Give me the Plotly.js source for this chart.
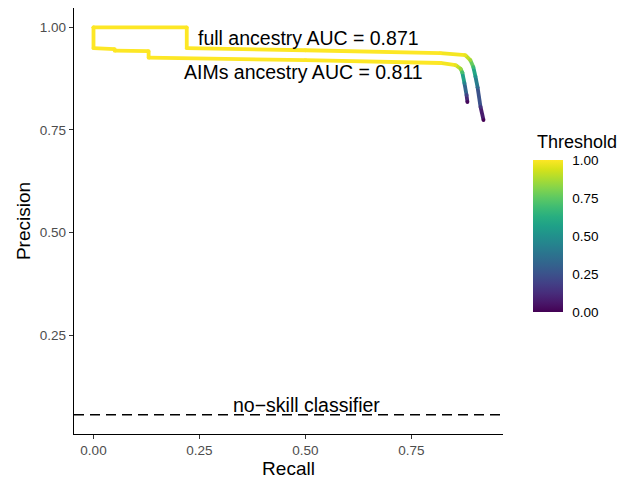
<!DOCTYPE html>
<html><head><meta charset="utf-8">
<script src="https://cdn.plot.ly/plotly-3.0.1.min.js"></script>
<style>html,body{margin:0;padding:0;background:#fff}#plot{width:621px;height:481px}</style>
</head><body><div id="plot"></div>
<script>
// Full ancestry PR curve
const fullRecall    = [0, 0.22, 0.22, 0.5, 0.818, 0.877, 0.889, 0.896, 0.901, 0.906, 0.913, 0.920];
const fullPrecision = [1, 1, 0.949, 0.944, 0.937, 0.932, 0.920, 0.903, 0.880, 0.854, 0.806, 0.774];
const fullThreshold = [1, 1, 1, 1, 1, 0.97, 0.85, 0.68, 0.5, 0.35, 0.15, 0.0];
// AIMs ancestry PR curve
const aimsRecall    = [0, 0, 0.05, 0.05, 0.13, 0.13, 0.5, 0.818, 0.854, 0.866, 0.870, 0.875, 0.880, 0.882];
const aimsPrecision = [1, 0.949, 0.947, 0.943, 0.942, 0.926, 0.920, 0.913, 0.908, 0.899, 0.890, 0.864, 0.835, 0.818];
const aimsThreshold = [1, 1, 1, 1, 1, 1, 1, 1, 0.97, 0.85, 0.7, 0.45, 0.2, 0.02];
const noSkill = 0.056;
const labels = ["full ancestry AUC = 0.871", "AIMs ancestry AUC = 0.811", "no\u2212skill classifier"];
const labelX = [0.507, 0.496, 0.502];
const labelY = [0.973, 0.890, 0.080];
const xTicks = [0, 0.25, 0.5, 0.75];
const yTicks = [0.25, 0.5, 0.75, 1.0];
const cbTicks = [0, 0.25, 0.5, 0.75, 1];
const cbTitle = "Threshold";

const viridis = [[0,'#440154'],[0.0627,'#48186a'],[0.1255,'#472d7b'],[0.1882,'#424086'],[0.2510,'#3b528b'],[0.3137,'#33638d'],[0.3765,'#2c728e'],[0.4392,'#26828e'],[0.5020,'#21918c'],[0.5647,'#1fa088'],[0.6275,'#28ae80'],[0.6902,'#3fbc73'],[0.7529,'#5ec962'],[0.8157,'#84d44b'],[0.8784,'#addc30'],[0.9412,'#d8e219'],[1,'#fde725']];
function hex2rgb(h){return [parseInt(h.substr(1,2),16),parseInt(h.substr(3,2),16),parseInt(h.substr(5,2),16)];}
function vcol(t){
  t=Math.max(0,Math.min(1,t));
  for(let i=1;i<viridis.length;i++){
    if(t<=viridis[i][0]){
      const a=viridis[i-1],b=viridis[i];const f=(t-a[0])/(b[0]-a[0]);
      const ca=hex2rgb(a[1]),cb=hex2rgb(b[1]);
      return 'rgb('+ca.map((v,k)=>Math.round(v+(cb[k]-v)*f)).join(',')+')';
    }
  }
  return viridis[viridis.length-1][1];
}
const W=3.8;
const traces=[];
function addCurve(xs,ys,ts,showScale){
  for(let i=0;i<xs.length-1;i++){
    traces.push({x:[xs[i],xs[i+1]],y:[ys[i],ys[i+1]],mode:'lines',type:'scatter',
      line:{color:vcol((ts[i]+ts[i+1])/2),width:W},hoverinfo:'skip',showlegend:false});
  }
  traces.push({x:xs,y:ys,mode:'markers',type:'scatter',showlegend:false,hoverinfo:'skip',
    marker:{size:W,color:ts,colorscale:viridis,cmin:0,cmax:1,line:{width:0},showscale:showScale,
      colorbar:{
        x:1.07,xanchor:'left',xref:'paper',y:0.465,yanchor:'middle',
        len:152,lenmode:'pixels',thickness:30,thicknessmode:'pixels',
        outlinewidth:0,xpad:0,ypad:0,
        tickvals:cbTicks,ticktext:cbTicks.map(v=>v.toFixed(2)),
        ticks:'outside',ticklen:7,tickcolor:'rgba(255,255,255,0)',tickwidth:1,
        tickfont:{size:13.5,color:'#000'}}}});
}
addCurve(fullRecall,fullPrecision,fullThreshold,true);
addCurve(aimsRecall,aimsPrecision,aimsThreshold,false);

const annotations=labels.map((t,i)=>({x:labelX[i],y:labelY[i],xref:'x',yref:'y',text:t,showarrow:false,
  font:{size:19.5,color:'#000'},xanchor:'center',yanchor:'middle'}));
annotations.push({x:1.075,y:0.686,xref:'paper',yref:'paper',text:cbTitle,showarrow:false,
  font:{size:18,color:'#000'},xanchor:'left',yanchor:'middle'});

const layout={
  width:621,height:481,
  margin:{l:74,r:118,t:8,b:47},
  paper_bgcolor:'#fff',plot_bgcolor:'#fff',
  font:{family:'Liberation Sans, Arial, sans-serif'},
  showlegend:false,
  xaxis:{range:[-0.046,0.966],tickvals:xTicks,ticktext:xTicks.map(v=>v.toFixed(2)),
    showgrid:false,zeroline:false,showline:true,linecolor:'#000',linewidth:1.2,
    ticks:'outside',ticklen:4,tickcolor:'#333',tickfont:{size:13.5,color:'#4d4d4d'},
    title:{text:'Recall',font:{size:19,color:'#000'},standoff:2}},
  yaxis:{range:[0.009,1.047],tickvals:yTicks,ticktext:yTicks.map(v=>v.toFixed(2)),
    showgrid:false,zeroline:false,showline:true,linecolor:'#000',linewidth:1.2,
    ticks:'outside',ticklen:4,tickcolor:'#333',tickfont:{size:13.5,color:'#4d4d4d'},
    title:{text:'Precision',font:{size:19,color:'#000'},standoff:4}},
  shapes:[{type:'line',xref:'paper',x0:0,x1:1,yref:'y',y0:noSkill,y1:noSkill,
    line:{color:'#000',width:1.4,dash:'10px,6px'}}],
  annotations:annotations
};
Plotly.newPlot('plot',traces,layout,{displayModeBar:false,staticPlot:true});
</script></body></html>
